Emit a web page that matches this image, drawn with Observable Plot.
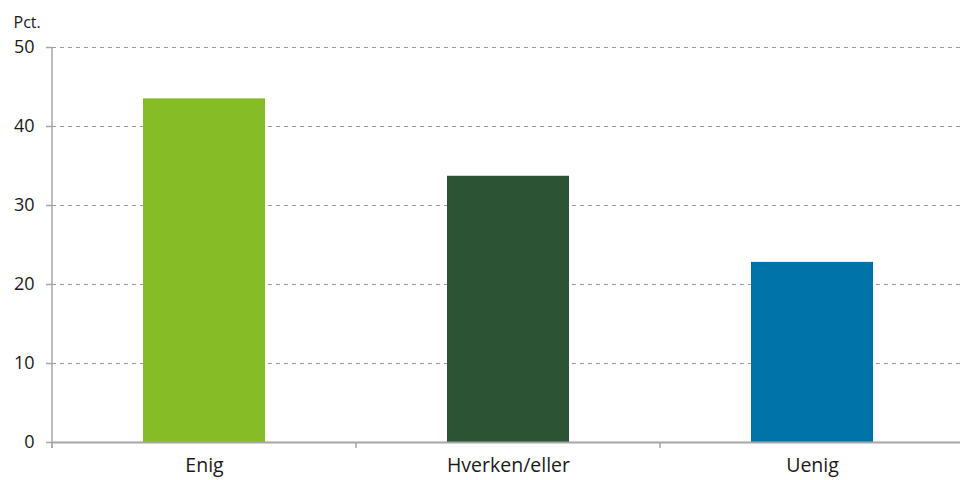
<!DOCTYPE html>
<html>
<head>
<meta charset="utf-8">
<script src="https://cdn.jsdelivr.net/npm/d3@7"></script>
<script src="https://cdn.jsdelivr.net/npm/@observablehq/plot@0.6"></script>
<style>
  html, body { margin: 0; padding: 0; background: #fff; overflow: hidden; }
  svg { display: block; }
</style>
</head>
<body>
<div id="chart"></div>
<script>
const categories = ["Enig", "Hverken/eller", "Uenig"];
const values = [43.5, 33.7, 22.8];
const barColors = ["#86bc25", "#2b5334", "#0074a8"];
const yTicks = [0, 10, 20, 30, 40, 50];
const yUnit = "Pct.";

const data = categories.map((c, i) => ({category: c, value: values[i]}));
const axisGray = "#a6a6a6";
const textColor = "#1a1a1a";
const font = "'Open Sans', 'Noto Sans', sans-serif";

// Custom mark: y-axis line plus category boundary ticks (Excel style)
function axisFrame(index, scales, vals, dims) {
  const {width, marginLeft, marginRight, marginTop} = dims;
  const g = d3.create("svg:g");
  const y0 = scales.y(0);
  const n = categories.length;
  const step = (width - marginLeft - marginRight) / n;
  g.append("line")
    .attr("x1", marginLeft).attr("x2", marginLeft)
    .attr("y1", marginTop).attr("y2", y0 + 6)
    .attr("stroke", axisGray).attr("stroke-width", 1.5);
  for (let i = 0; i <= n; i++) {
    const x = marginLeft + i * step;
    g.append("line")
      .attr("x1", x).attr("x2", x)
      .attr("y1", y0).attr("y2", y0 + 6)
      .attr("stroke", axisGray).attr("stroke-width", 1.5);
  }
  return g.node();
}

const chart = Plot.plot({
  width: 960,
  height: 480,
  marginTop: 47,
  marginBottom: 38,
  marginLeft: 52,
  marginRight: -4,
  style: {fontFamily: font, fontSize: "19px", color: textColor, background: "#fff"},
  x: {domain: categories, paddingInner: 0.6, paddingOuter: 0.3, label: null},
  y: {domain: [0, 50], label: null},
  color: {domain: categories, range: barColors},
  marks: [
    Plot.gridY(yTicks.filter(t => t > 0), {stroke: "#9a9a9a", strokeOpacity: 1, strokeDasharray: "4,4", strokeWidth: 1}),
    Plot.barY(data, {x: "category", y: "value", fill: "category"}),
    Plot.ruleY([0], {stroke: axisGray, strokeWidth: 2}),
    Plot.axisY({ticks: yTicks, tickSize: 6, tickPadding: 12, stroke: axisGray, strokeWidth: 1.5, fill: textColor, fontSize: 18, label: null}),
    Plot.axisX({tickSize: 0, tickPadding: 16, fill: textColor, fontSize: 19.5, label: null}),
    axisFrame,
    Plot.text([yUnit], {frameAnchor: "top-left", textAnchor: "start", dx: -39, dy: -31, fontSize: 16, fill: textColor})
  ]
});

document.getElementById("chart").appendChild(chart);
</script>
</body>
</html>
